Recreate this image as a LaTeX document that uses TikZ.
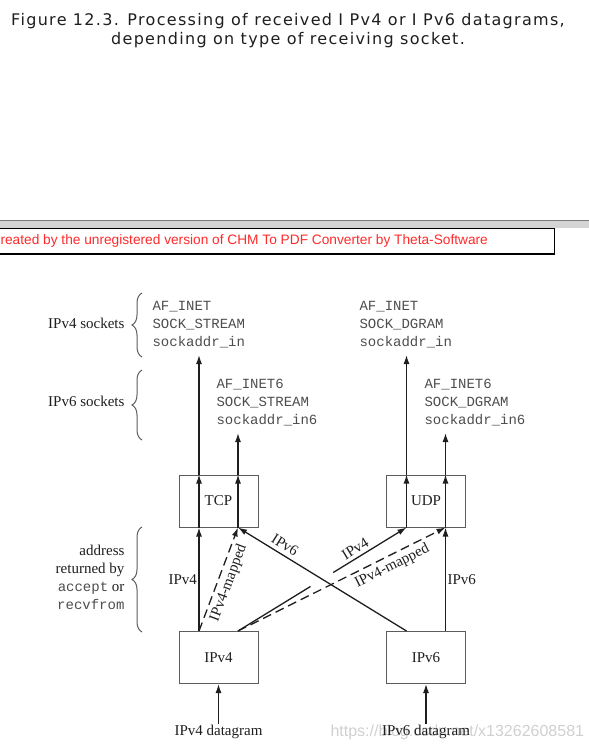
\documentclass[tikz,border=0pt]{standalone}
\usepackage{fontspec}
\setmainfont{Liberation Serif}
\setmonofont{Liberation Mono}
\newfontfamily\titlefont[LetterSpace=8.2]{DejaVu Sans}
\newfontfamily\bannerfont{Liberation Sans}
\usetikzlibrary{arrows.meta, positioning, decorations.pathreplacing}
\definecolor{cink}{HTML}{1E1E1E}
\definecolor{cbox}{HTML}{5C5C5C}
\definecolor{ccode}{HTML}{4D4D4D}
\definecolor{cband}{HTML}{D4D4D4}
\definecolor{cbandline}{HTML}{7A7A7A}
\definecolor{cred}{HTML}{FF2A2A}
\definecolor{cmark}{HTML}{D0D0D0}
\tikzset{
  every picture/.style={line width=1.1pt},
  proto/.style={draw=cbox, line width=1pt, minimum width=79pt, minimum height=52pt, inner sep=0pt, text=cink, font=\fontsize{15}{18}\selectfont},
  flow/.style={-{Latex[length=9pt, width=6pt]}, draw=cink, line width=1.3pt},
  mapped/.style={flow, dash pattern=on 9pt off 5pt},
  sockinfo/.style={font=\ttfamily\fontsize{14}{18}\selectfont, text=ccode, align=left, inner sep=0pt, anchor=base west},
  tag/.style={font=\fontsize{15}{18}\selectfont, text=cink, inner sep=1.5pt},
  sidebrace/.style={decorate, decoration={brace, amplitude=10pt}, draw=cbox, line width=1pt},
}

\begin{document}
\begin{tikzpicture}[x=1pt, y=-1pt]
  \useasboundingbox (0,0) rectangle (589,747);
  \node (titleA) [font=\titlefont\fontsize{16}{18}\selectfont, text=cink, anchor=base, inner sep=0pt] at (288,25) {Figure 12.3. Processing of received I Pv4 or I Pv6 datagrams,};
  \node (titleB) [font=\titlefont\fontsize{16}{18}\selectfont, text=cink, anchor=base, inner sep=0pt] at (288,44) {depending on type of receiving socket.};

  \fill[cband] (0,220) rectangle (589,228);
  \draw[cbandline, line width=1pt] (0,220) -- (589,220);
  \draw[black, line width=1.3pt, fill=white] (-2,228.5) rectangle (554.5,254);
  \node (banner) [font=\bannerfont\fontsize{13.7}{15}\selectfont, text=cred, anchor=base west, inner sep=0pt] at (0,244) {reated by the unregistered version of CHM To PDF Converter by Theta-Software};

  \node (mark) [font=\bannerfont\fontsize{16}{18}\selectfont, text=cmark, anchor=base west, inner sep=0pt] at (330,736) {https://blog.csdn.net/x13262608581};

  \node (tcpfour) [sockinfo] at (152,346) {AF\_INET\\SOCK\_STREAM\\sockaddr\_in};
  \node (tcpsix) [sockinfo] at (216,424) {AF\_INET6\\SOCK\_STREAM\\sockaddr\_in6};
  \node (udpfour) [sockinfo] at (359,346) {AF\_INET\\SOCK\_DGRAM\\sockaddr\_in};
  \node (udpsix) [sockinfo] at (424,424) {AF\_INET6\\SOCK\_DGRAM\\sockaddr\_in6};

  \draw[sidebrace] (142,357) -- (142,293);
  \draw[sidebrace] (142,440) -- (142,370);
  \draw[sidebrace] (142,632) -- (142,527);
  \node (fourlbl) [tag, inner sep=0pt, anchor=base east] at (125,328) {IPv4 sockets};
  \node (sixlbl) [tag, inner sep=0pt, anchor=base east] at (125,406) {IPv6 sockets};
  \node (addrlbl) [tag, inner sep=0pt, anchor=base east, align=right] at (125,609) {address\\returned by\\\texttt{\fontsize{14}{18}\selectfont\color{ccode}accept} or\\\texttt{\fontsize{14}{18}\selectfont\color{ccode}recvfrom}};

  \node (tcp) [proto] at (218.5,501) {TCP};
  \node (udp) [proto] at (426,501) {UDP};
  \node (ipfour) [proto] at (218.5,657.5) {IPv4};
  \node (ipsix) [proto] at (426,657.5) {IPv6};
  \node (dgfour) [tag, inner sep=0pt, anchor=base] at (218.5,735) {IPv4 datagram};
  \node (dgsix) [tag, inner sep=0pt, anchor=base] at (426,735) {IPv6 datagram};

  \coordinate (tcpinL) at ([xshift=-19.5pt]tcp.south);
  \coordinate (tcpinR) at ([xshift=19.5pt]tcp.south);
  \coordinate (tcpoutL) at ([xshift=-19.5pt]tcp.north);
  \coordinate (tcpoutR) at ([xshift=19.5pt]tcp.north);
  \coordinate (udpinL) at ([xshift=-19.5pt]udp.south);
  \coordinate (udpinR) at ([xshift=19.5pt]udp.south);
  \coordinate (udpoutL) at ([xshift=-19.5pt]udp.north);
  \coordinate (udpoutR) at ([xshift=19.5pt]udp.north);
  \coordinate (fourL) at ([xshift=-19.5pt]ipfour.north);
  \coordinate (fourR) at ([xshift=19.5pt]ipfour.north);
  \coordinate (sixL) at ([xshift=-19.5pt]ipsix.north);
  \coordinate (sixR) at ([xshift=19.5pt]ipsix.north);

  \draw[flow] (dgfour) -- (ipfour);
  \draw[flow] (dgsix) -- (ipsix);

  \draw[flow] (fourL) -- node[tag, left] {IPv4} (tcpinL);
  \draw[flow] (tcpinL) -- (tcpoutL);
  \draw[flow, shorten >=7pt] (tcpoutL) -- (tcpoutL |- tcpfour.south);
  \draw[flow] (tcpinR) -- (tcpoutR);
  \draw[flow, shorten >=7pt] (tcpoutR) -- (tcpoutR |- tcpsix.south);

  \draw[flow] (sixR) -- node[tag, right] {IPv6} (udpinR);
  \draw[flow] (udpinL) -- (udpoutL);
  \draw[flow, shorten >=7pt] (udpoutL) -- (udpoutL |- udpfour.south);
  \draw[flow] (udpinR) -- (udpoutR);
  \draw[flow, shorten >=7pt] (udpoutR) -- (udpoutR |- udpsix.south);

  % IPv4 to UDP, broken where the IPv6 line crosses
  \path (fourR) -- coordinate[pos=0.43] (gapA) coordinate[pos=0.565] (gapB) (udpinL);
  \draw[draw=cink, line width=1.3pt] (fourR) -- (gapA);
  \draw[flow] (gapB) -- node[tag, sloped, above, pos=0.36, inner sep=3pt] {IPv4} (udpinL);
  \draw[flow] (sixL) -- (tcpinR);
  \node (sixtag) [tag, rotate=-32] at (285,545) {IPv6};

  \draw[mapped] (fourL) -- node[tag, sloped, below, pos=0.5, inner sep=3.5pt] {IPv4-mapped} (tcpinR);
  \draw[mapped] (fourR) -- node[tag, sloped, below, pos=0.72, inner sep=3.5pt] {IPv4-mapped} (udpinR);
\end{tikzpicture}
\end{document}
